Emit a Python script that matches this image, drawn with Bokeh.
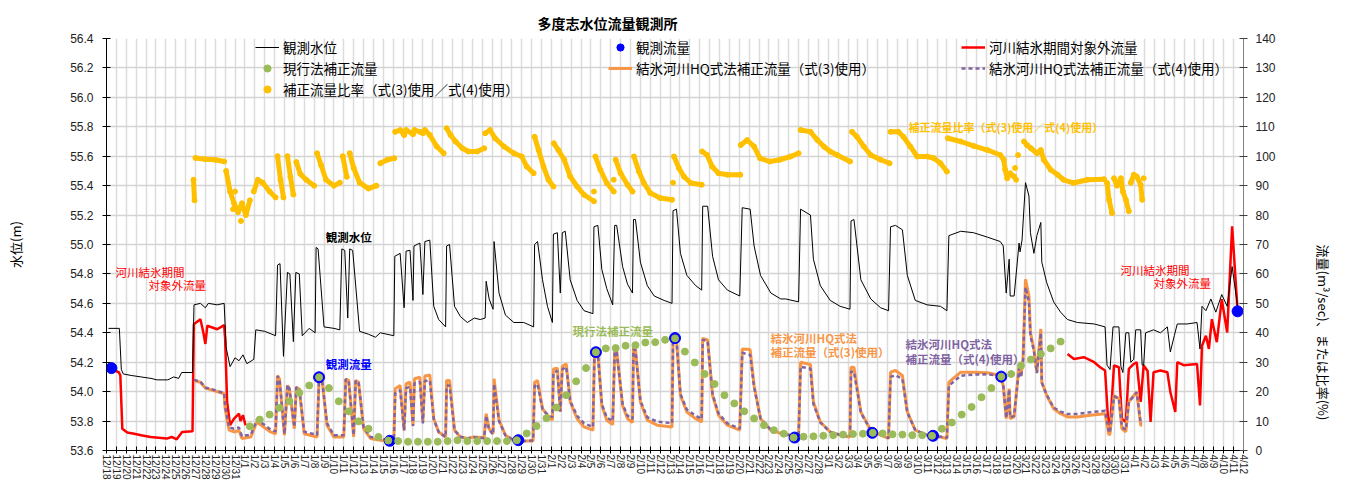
import math
from datetime import date, timedelta
from bokeh.plotting import figure
from bokeh.models import (Range1d, LinearAxis, FixedTicker, Legend, LegendItem, Label,
                          PrintfTickFormatter)
from bokeh.embed import file_html
from bokeh.resources import INLINE

NAN = float("nan")

# ---------------- data ----------------
START = date(2022, 12, 18)
N_DAYS = 115
date_labels = [f"{(START + timedelta(days=i)).month}/{(START + timedelta(days=i)).day}" for i in range(N_DAYS + 1)]
level_ticks = [53.6, 53.8, 54.0, 54.2, 54.4, 54.6, 54.8, 55.0, 55.2, 55.4, 55.6, 55.8, 56.0, 56.2, 56.4]
flow_ticks = [0, 10, 20, 30, 40, 50, 60, 70, 80, 90, 100, 110, 120, 130, 140]

# observed water level (m); x = days since 12/18
wl_day = [0.2, 1.3, 1.5, 1.7, 2.5, 3.5, 4.5, 5.1, 6.2, 6.8, 7.3, 7.6, 8.7, 8.85, 9.5, 10.0, 10.3, 11.2, 11.9,
          12.1, 12.5, 13.0, 13.4, 13.8, 14.2, 14.9, 15.1, 16.0, 17.1, 17.3, 17.55, 17.9, 18.3, 18.55, 18.9,
          19.15, 19.5, 19.8, 20.5, 21.1, 21.2, 21.4, 22.0, 23.0, 23.6, 23.8, 24.1, 24.4, 24.6, 24.9, 25.6,
          26.5, 27.2, 27.7, 29.06, 29.16, 29.7, 30.1, 30.3, 30.7, 31.0, 31.1, 31.7, 32.0, 32.2, 32.7, 33.1,
          33.6, 34.3, 34.4, 34.7, 35.2, 35.8, 36.5, 37.2, 37.8, 38.3, 38.4, 38.7, 39.1, 39.2, 39.7, 40.35,
          41.2, 42.2, 43.2, 43.3, 43.6, 44.1, 44.6, 45.1, 45.2, 45.6, 45.9, 46.1, 46.4, 46.9, 47.6, 48.3,
          49.2, 49.3, 49.7, 50.1, 50.6, 51.2, 51.4, 51.6, 52.2, 52.7, 53.2, 53.3, 53.5, 54.0, 54.7, 55.4,
          56.4, 57.2, 57.3, 57.65, 58.05, 58.7, 59.6, 60.2, 60.3, 60.8, 61.3, 61.9, 62.8, 64.05, 64.3, 65.1,
          65.5, 66.15, 67.2, 68.2, 68.7, 70.0, 70.2, 71.2, 71.5, 72.2, 73.2, 74.2, 75.2, 75.3, 75.6, 76.3,
          77.3, 78.3, 79.1, 79.3, 79.8, 80.5, 81.0, 81.8, 83.0, 84.35, 85.0, 85.2, 86.4, 87.7, 89.1, 90.4,
          90.7, 91.0, 91.3, 91.4, 91.8, 92.3, 92.4, 92.6, 92.95, 93.3, 93.45, 93.8, 94.1, 94.5, 94.6, 95.1,
          95.8, 96.5, 97.2, 98.2, 99.9, 101.0, 101.2, 101.5, 101.8, 102.4, 102.6, 102.8, 103.1, 103.4, 103.6,
          103.9, 104.1, 104.6, 104.75, 104.9, 105.1, 105.9, 106.6, 107.3, 107.6, 108.0, 108.3, 109.3, 110.3,
          110.6, 110.8, 111.2, 111.7, 112.2, 112.8, 113.35, 113.85, 114.4]
wl_val = [54.43, 54.43, 54.15, 54.12, 54.11, 54.10, 54.09, 54.08, 54.08, 54.10, 54.09, 54.13, 54.13, 54.59, 54.60,
          54.57, 54.60, 54.59, 54.60, 54.30, 54.17, 54.23, 54.21, 54.25, 54.19, 54.22, 54.42, 54.41, 54.38,
          54.86, 54.87, 54.24, 54.81, 54.80, 54.34, 54.81, 54.80, 54.38, 54.43, 54.40, 54.98, 54.97, 54.44,
          54.43, 54.42, 54.97, 54.96, 54.50, 54.97, 54.96, 54.41, 54.39, 54.37, 54.40, 54.38, 54.92, 54.94,
          54.57, 54.955, 54.96, 54.62, 54.99, 55.01, 54.66, 55.02, 55.03, 54.58, 54.49, 54.44, 54.99, 55.00,
          54.58, 54.51, 54.47, 54.50, 54.49, 54.50, 54.75, 54.63, 54.56, 55.02, 54.67, 54.52, 54.47, 54.47,
          54.44, 55.00, 55.02, 54.76, 54.58, 54.47, 55.07, 55.08, 54.67, 55.08, 55.09, 54.76, 54.62, 54.55,
          54.53, 55.12, 55.13, 54.83, 54.70, 54.59, 55.13, 55.13, 54.85, 54.73, 54.67, 55.17, 55.17, 54.88,
          54.72, 54.65, 54.62, 54.60, 55.23, 55.24, 54.94, 54.79, 54.72, 54.69, 55.26, 55.26, 54.92, 54.76,
          54.69, 54.65, 55.25, 55.24, 54.99, 54.79, 54.67, 54.63, 54.63, 54.61, 55.24, 55.20, 54.90, 54.72,
          54.62, 54.58, 54.56, 55.16, 55.17, 54.76, 54.63, 54.57, 54.55, 55.12, 55.13, 55.10, 54.79, 54.62,
          54.59, 54.58, 54.55, 55.06, 55.09, 55.08, 55.05, 55.02, 54.99, 54.67, 54.90, 54.65, 54.65, 55.01,
          54.95, 55.03, 55.42, 55.33, 55.08, 54.94, 55.06, 55.15, 54.88, 54.74, 54.61, 54.54, 54.49, 54.47,
          54.46, 54.44, 54.18, 54.15, 54.44, 54.44, 54.17, 54.13, 54.40, 54.40, 54.20, 54.22, 54.42, 54.42,
          54.18, 54.18, 54.40, 54.42, 54.40, 54.44, 54.27, 54.38, 54.46, 54.46, 54.47, 54.29, 54.58, 54.55,
          54.63, 54.54, 54.66, 54.58, 54.85, 54.58]

# flows outside the river-ice period (m3/s)
red1_day = [0.2, 1.25, 1.4, 1.6, 2.1, 2.8, 3.5, 4.45, 6.1, 6.6, 7.1, 7.65, 8.7, 8.83, 9.5, 9.8, 10.0, 10.2, 11.2,
            11.9, 12.0, 12.2, 12.5, 12.9, 13.4, 13.55, 13.8, 14.06]
red1_val = [28.0, 26.6, 25.5, 7.4, 6.1, 5.7, 5.2, 4.6, 4.05, 4.6, 3.8, 6.3, 6.5, 42.9, 44.6, 40.0, 36.2, 42.4, 41.2,
            42.6, 38.0, 16.5, 8.6, 10.8, 12.5, 10.0, 12.0, 8.6]
red2_day = [97.2, 97.85, 98.85, 99.9, 100.5, 101.0, 101.3, 101.5, 101.9, 102.4, 102.7, 103.1, 103.4, 103.9, 104.2,
            104.6, 104.9, 105.3, 105.6, 105.9, 106.6, 107.3, 107.6, 108.1, 108.3, 108.95, 110.3, 110.6, 110.8,
            111.2, 111.5, 111.8, 112.3, 112.8, 113.35, 113.85, 114.4]
red2_val = [32.8, 31.1, 31.7, 30.0, 28.3, 27.2, 10.8, 7.4, 28.9, 28.3, 10.8, 9.7, 27.7, 29.4, 30.0, 16.5, 28.9,
            27.0, 9.7, 26.6, 27.2, 26.6, 19.9, 13.1, 30.0, 29.0, 29.4, 15.3, 35.6, 39.0, 34.5, 44.6, 36.8, 51.4,
            40.1, 76.2, 47.5]

# ice-river HQ method corrected flows, eq.(3) and eq.(4)
hq_day = [8.85, 9.5, 10.0, 10.85, 11.9, 12.0, 12.4, 12.9, 13.4, 13.7, 14.6, 15.07, 15.2, 15.9, 16.6, 17.1, 17.3,
          17.5, 18.0, 18.3, 18.5, 19.0, 19.2, 19.5, 20.0, 21.3, 21.5, 21.8, 22.3, 23.0, 24.0, 24.2, 24.5, 25.0,
          25.2, 25.5, 26.0, 26.7, 27.7, 29.06, 29.2, 29.7, 30.1, 30.3, 30.7, 31.0, 31.15, 31.7, 32.0, 32.2, 32.7,
          33.1, 33.6, 34.3, 34.4, 34.7, 35.2, 35.8, 36.5, 37.15, 38.2, 38.4, 38.7, 39.1, 39.2, 39.7, 40.35, 41.2,
          42.2, 43.15, 43.3, 43.6, 44.1, 44.6, 45.1, 45.2, 45.6, 45.9, 46.1, 46.5, 46.9, 47.6, 48.3, 49.2, 49.35,
          49.7, 50.1, 50.6, 51.2, 51.4, 51.6, 52.2, 52.7, 53.2, 53.3, 53.5, 54.0, 54.7, 55.7, 57.2, 57.3, 57.65,
          58.05, 58.7, 59.6, 60.2, 60.3, 60.8, 61.3, 61.9, 62.8, 64.05, 64.3, 65.1, 65.5, 66.15, 67.2, 68.2, 70.0,
          70.2, 71.2, 71.5, 72.2, 73.2, 74.2, 75.2, 75.3, 75.6, 76.3, 77.3, 78.3, 79.1, 79.3, 79.8, 80.5, 81.0,
          81.8, 83.0, 84.35, 85.0, 85.2, 86.4, 87.7, 89.1, 90.4, 90.7, 91.0, 91.3, 91.4, 91.8, 92.3, 92.5, 92.7,
          92.95, 93.3, 93.45, 93.8, 94.1, 94.5, 94.6, 95.1, 95.8, 96.5, 97.2, 98.2, 99.5, 101.0, 101.4, 101.5,
          101.9, 102.4, 102.7, 103.1, 103.4, 103.9, 104.2, 104.6, 104.75]
hq3_val = [23.8, 23.2, 21.2, 20.4, 19.3, 14.2, 6.9, 6.3, 6.8, 4.1, 4.6, 8.6, 9.7, 8.0, 6.3, 5.7, 25.5, 24.3, 5.2,
           22.1, 21.0, 7.4, 21.5, 20.8, 5.7, 4.6, 24.9, 24.3, 8.6, 4.6, 4.6, 24.3, 23.8, 4.6, 23.8, 23.2, 7.4,
           4.1, 3.5, 3.0, 21.0, 22.1, 6.9, 22.7, 23.2, 8.6, 24.4, 24.9, 9.7, 25.3, 25.7, 10.8, 6.3, 4.6, 23.8,
           23.8, 6.9, 4.6, 4.1, 4.6, 4.3, 12.5, 7.4, 5.7, 24.4, 10.3, 5.2, 3.5, 3.2, 3.2, 23.2, 23.8, 14.2, 12.0,
           10.3, 27.7, 28.0, 13.1, 28.6, 29.4, 16.5, 10.8, 8.0, 6.9, 33.0, 33.2, 15.3, 10.3, 8.8, 33.9, 33.9,
           15.3, 10.8, 9.5, 35.1, 34.5, 16.5, 10.3, 8.6, 8.0, 37.9, 37.9, 18.7, 13.1, 10.8, 9.7, 38.1, 37.6,
           18.7, 12.0, 8.6, 6.9, 34.5, 34.3, 22.1, 10.8, 6.9, 5.8, 4.6, 30.0, 29.2, 16.5, 9.7, 6.3, 5.2, 4.6,
           28.3, 28.3, 13.1, 6.9, 5.2, 4.1, 26.6, 27.2, 25.5, 13.1, 6.9, 5.2, 4.6, 4.1, 23.2, 26.6, 26.6, 26.4,
           25.5, 22.1, 10.8, 21.0, 10.8, 11.4, 28.9, 25.5, 31.1, 58.2, 52.5, 40.1, 34.5, 26.6, 41.3, 23.2, 18.7,
           14.2, 12.5, 11.4, 11.4, 12.0, 12.5, 5.2, 5.8, 18.7, 17.6, 7.4, 6.3, 16.5, 18.7, 19.9, 8.6, 8.6]
hq4_val = [24.0, 23.4, 21.4, 20.6, 19.5, 15.0, 7.8, 7.4, 7.8, 4.9, 5.4, 9.3, 10.5, 8.9, 7.1, 6.5, 25.3, 24.0, 5.6,
           22.3, 21.0, 8.0, 21.6, 20.8, 6.4, 5.3, 24.8, 24.0, 9.3, 5.2, 5.2, 24.3, 23.5, 5.2, 23.8, 23.0, 8.0,
           4.6, 4.0, 3.2, 19.5, 20.5, 6.8, 21.2, 21.6, 8.3, 22.8, 23.3, 9.2, 23.6, 23.8, 10.6, 6.2, 4.6, 22.0,
           22.1, 6.8, 4.7, 4.1, 4.5, 4.2, 11.8, 7.0, 5.5, 22.6, 10.0, 5.1, 3.5, 3.2, 3.4, 21.8, 22.6, 14.0, 12.2,
           11.3, 26.5, 27.0, 13.3, 27.6, 28.4, 16.8, 11.8, 9.2, 8.0, 32.4, 32.6, 15.8, 11.2, 10.0, 33.6, 33.4,
           15.8, 11.8, 10.7, 34.5, 34.0, 16.9, 11.3, 9.8, 9.3, 37.5, 37.3, 19.2, 13.9, 11.8, 10.7, 37.6, 37.2,
           19.1, 12.6, 9.2, 7.4, 33.2, 32.5, 21.5, 10.9, 7.0, 5.9, 4.6, 28.5, 27.8, 15.8, 9.5, 6.3, 5.3, 4.7,
           26.8, 26.8, 12.8, 6.9, 5.3, 4.2, 25.0, 25.6, 24.3, 12.9, 6.9, 5.2, 4.7, 4.3, 22.0, 25.4, 25.8, 25.9,
           25.4, 22.2, 11.0, 20.8, 11.2, 11.8, 28.0, 24.8, 30.2, 55.5, 50.5, 39.0, 33.8, 26.3, 40.0, 23.0, 18.9,
           14.6, 13.2, 12.4, 12.4, 13.0, 13.5, 6.0, 6.5, 18.4, 17.7, 8.0, 7.0, 16.5, 18.5, 19.8, 9.3, 9.3]

# current-method corrected flow (daily)
green_day = [k + 0.5 for k in range(14, 97)]
green_val = [8.2, 10.5, 12.2, 14.5, 16.7, 19.6, 22.1, 24.9, 21.2, 16.7,
             13.3, 9.9, 7.4, 4.6, 3.4, 3.2, 3.0, 3.0, 3.0, 3.0,
             3.2, 3.5, 3.2, 3.2, 3.2, 3.2, 3.2, 3.5, 5.8, 8.3,
             11.0, 14.6, 18.8, 23.5, 28.0, 33.4, 34.7, 34.8, 35.6, 35.8,
             36.7, 36.8, 37.6, 38.1, 33.6, 29.9, 26.0, 22.6, 18.8, 16.0,
             13.3, 10.9, 8.6, 6.9, 5.7, 4.4, 4.7, 4.8, 5.0, 5.2,
             5.4, 5.6, 5.7, 6.0, 5.8, 5.5, 5.4, 5.2, 5.2, 5.0,
             7.4, 9.5, 12.2, 14.8, 18.1, 21.2, 25.1, 26.0, 28.9, 30.9,
             32.8, 34.7, 37.0]

# observed flow
obs_day = [0.5, 21.5, 28.65, 41.65, 49.5, 57.5, 69.6, 77.45, 83.6, 90.5, 114.4]
obs_val = [28.0, 24.9, 3.3, 3.5, 33.4, 38.2, 4.4, 6.0, 5.0, 25.1, 47.3]

# ratio eq.(3)/eq.(4) (%), NaN separates runs
ratio_day = [8.8, 8.9, NAN,
             9.0, 10.0, 11.0, 11.9, NAN,
             12.1, 12.5, 12.9, 13.3, 13.7, 14.1, 14.5, NAN,
             14.9, 15.3, 15.8, 16.5, 17.1, NAN,
             17.3, 17.6, 17.9, NAN,
             18.3, 18.6, 18.9, NAN,
             19.2, 19.6, 20.2, 21.0, NAN,
             21.3, 21.7, 22.2, 23.0, 23.6, NAN,
             23.9, 24.3, NAN,
             24.6, 25.0, 25.6, 26.5, 27.3, NAN,
             27.7, 28.4, 29.1, NAN,
             29.2, 29.7, 30.1, 30.3, 31.0, 31.15, 31.7, 32.0, 32.2, 32.7, 33.4, 34.1, NAN,
             34.4, 34.8, 35.3, 36.0, 36.6, 37.5, 38.2, NAN,
             38.3, 38.8, 39.3, 40.2, 41.2, 42.0, 42.5, 43.2, NAN,
             43.3, 43.7, 44.2, 44.7, 45.2, NAN,
             45.25, 45.7, 46.3, 46.9, 47.6, 48.3, 49.3, NAN,
             49.45, 49.95, 50.6, 51.3, NAN,
             51.5, 52.0, 52.7, 53.2, NAN,
             53.35, 53.85, 54.35, 55.0, 56.0, 57.2, NAN,
             57.4, 57.9, 58.4, 59.1, 60.2, NAN,
             60.25, 60.75, 61.25, 61.9, 62.8, 64.1, NAN,
             64.15, 64.8, 65.5, 66.1, 67.1, 68.1, 69.2, 70.0, NAN,
             70.2, 71.2, 71.9, 72.55, 73.2, 73.9, 75.2, NAN,
             75.4, 75.9, 76.6, 77.3, 78.3, 79.2, NAN,
             79.3, 80.1, 80.6, 81.3, 82.0, 83.0, 83.7, 84.35, 85.0, NAN,
             85.1, 86.4, 87.7, 89.1, 90.4, 90.75, 90.9, 91.1, 91.4, 91.8, NAN,
             92.8, 93.1, 93.5, 94.1, 94.5, 94.8, 95.5, 96.2, 96.8, 97.8, 99.2, 100.9, NAN,
             101.2, 101.4, 101.7, NAN,
             101.9, 102.2, 102.6, 102.8, 103.1, 103.4, NAN,
             103.6, 103.9, 104.2, 104.6, 104.75]
ratio_val = [92.0, 85.0, NAN,
             99.4, 99.0, 98.8, 98.2, NAN,
             95.0, 88.0, 84.0, 81.0, 84.0, 80.0, 85.0, NAN,
             88.0, 92.0, 91.0, 88.0, 86.0, NAN,
             100.0, 92.0, 86.0, NAN,
             100.0, 93.0, 87.0, NAN,
             98.0, 94.0, 92.0, 90.0, NAN,
             101.0, 97.0, 92.0, 90.0, 91.0, NAN,
             100.0, 93.0, NAN,
             101.0, 96.0, 91.0, 89.0, 90.0, NAN,
             97.6, 98.8, 99.3, NAN,
             108.3, 108.9, 107.2, 108.9, 107.5, 108.9, 108.3, 107.8, 108.9, 107.2, 103.3, 101.0, NAN,
             109.5, 107.2, 105.0, 102.7, 101.6, 101.6, 102.7, NAN,
             107.8, 108.9, 106.1, 103.3, 101.0, 99.9, 96.5, 94.2, NAN,
             106.6, 102.1, 96.5, 92.0, 89.7, NAN,
             104.4, 102.1, 98.8, 93.1, 89.7, 86.9, 84.7, NAN,
             99.9, 95.4, 90.9, 88.0, NAN,
             98.8, 94.2, 90.3, 88.0, NAN,
             99.9, 94.8, 90.9, 87.5, 85.8, 85.2, NAN,
             99.9, 95.9, 93.1, 90.9, 90.3, NAN,
             101.6, 100.4, 96.5, 94.2, 93.7, 93.7, NAN,
             103.8, 105.5, 103.3, 99.3, 98.2, 98.8, 99.9, 101.0, NAN,
             108.9, 108.3, 105.5, 103.3, 101.6, 100.4, 98.2, NAN,
             108.3, 106.6, 103.3, 100.4, 98.8, 97.6, NAN,
             108.3, 108.3, 106.6, 103.3, 99.9, 99.9, 99.3, 97.6, 94.8, NAN,
             106.1, 105.0, 103.5, 102.1, 100.4, 98.8, 95.4, 92.5, 94.2, 93.1, NAN,
             105.0, 103.8, 102.7, 101.0, 102.1, 98.8, 95.4, 93.7, 92.0, 90.9, 92.0, 92.2, NAN,
             90.9, 85.2, 80.7, NAN,
             92.5, 90.0, 92.5, 88.0, 85.2, 81.3, NAN,
             91.0, 93.7, 93.1, 90.3, 85.2]
ratio_stray_day = [104.9, 91.9, 92.2, 92.0, 49.3, 51.3, 57.3, 13.0, 13.6, 12.8]
ratio_stray_val = [92.5, 96.0, 100.4, 92.0, 88.0, 92.0, 91.0, 88.0, 78.0, 82.0]

# ---------------- figure ----------------
JP = "Noto Sans CJK JP"
NUM = "Liberation Sans"

p = figure(width=1347, height=482, x_range=Range1d(0, N_DAYS), y_range=Range1d(53.6, 56.4),
           output_backend="svg", toolbar_location=None,
           min_border_left=106, min_border_right=104, min_border_top=38, min_border_bottom=30)
p.extra_y_ranges = {"flow": Range1d(0, 140)}
p.outline_line_color = None
p.background_fill_color = "white"

p.title.text = "多度志水位流量観測所"
p.title.align = "left"
p.title.offset = 431
p.title.standoff = 12
p.title.text_font = JP
p.title.text_font_size = "14px"
p.title.text_font_style = "bold"
p.title.text_color = "black"

p.xgrid.ticker = FixedTicker(ticks=list(range(N_DAYS + 1)))
p.xgrid.grid_line_color = "#dcdcdc"
p.xgrid.grid_line_width = 1.5
p.ygrid.ticker = FixedTicker(ticks=level_ticks)
p.ygrid.grid_line_color = "#d4d4d4"
p.ygrid.grid_line_width = 1.5

xa = p.xaxis[0]
xa.ticker = FixedTicker(ticks=list(range(N_DAYS + 1)))
xa.major_label_overrides = {i: lab for i, lab in enumerate(date_labels)}
xa.major_label_orientation = "vertical"
xa.major_label_text_font = NUM
xa.major_label_text_font_size = "10px"
xa.major_label_text_color = "#222222"
xa.major_label_standoff = 1
xa.major_tick_in = 4
xa.major_tick_out = 3
xa.minor_tick_line_color = None
xa.axis_line_color = "black"
xa.major_tick_line_color = "black"

ya = p.yaxis[0]
ya.ticker = FixedTicker(ticks=level_ticks)
ya.formatter = PrintfTickFormatter(format="%.1f")
ya.major_tick_in = 4
ya.major_tick_out = 4
ya.minor_tick_line_color = None
ya.major_label_standoff = 9
ya.major_label_text_font = NUM
ya.major_label_text_font_size = "12px"
ya.major_label_text_color = "#222222"
ya.axis_line_color = "black"
ya.major_tick_line_color = "black"
ya.axis_label = "水位(m)"
ya.axis_label_text_font = JP
ya.axis_label_text_font_size = "13px"
ya.axis_label_text_font_style = "normal"
ya.axis_label_text_color = "black"
ya.axis_label_standoff = 42

ra = LinearAxis(y_range_name="flow", ticker=FixedTicker(ticks=flow_ticks))
ra.major_tick_in = 4
ra.major_tick_out = 4
ra.minor_tick_line_color = None
ra.major_label_standoff = 8
ra.major_label_text_font = NUM
ra.major_label_text_font_size = "12px"
ra.major_label_text_color = "#222222"
ra.axis_line_color = "#808080"
ra.major_tick_line_color = "#404040"
ra.axis_label = "流量(m³/sec)、または比率(%)"
ra.axis_label_text_font = JP
ra.axis_label_text_font_size = "13px"
ra.axis_label_text_font_style = "normal"
ra.axis_label_text_color = "black"
ra.axis_label_standoff = 45
if "axis_label_orientation" in ra.properties():
    ra.axis_label_orientation = -math.pi / 2
p.add_layout(ra, "right")

# ---------------- series ----------------
r_red1 = p.line(red1_day, red1_val, y_range_name="flow", line_color="#FF0000", line_width=2.5)
p.line(red2_day, red2_val, y_range_name="flow", line_color="#FF0000", line_width=2.5)
r_hq3 = p.line(hq_day, hq3_val, y_range_name="flow", line_color="#F79646", line_width=3)
r_hq4 = p.line(hq_day, hq4_val, y_range_name="flow", line_color="#8064A2", line_width=2.5, line_dash="4 3")
p.line(ratio_day, ratio_val, y_range_name="flow", line_color="#FFC000", line_width=5,
       line_join="round", line_cap="round")
r_ratio = p.scatter(ratio_day, ratio_val, y_range_name="flow", size=5, color="#FFC000")
p.scatter(ratio_stray_day, ratio_stray_val, y_range_name="flow", size=5, color="#FFC000")
r_wl = p.line(wl_day, wl_val, line_color="black", line_width=1)
r_obs = p.scatter(obs_day, obs_val, y_range_name="flow", size=11, color="#0000FF")
r_green = p.scatter(green_day, green_val, y_range_name="flow", size=7, color="#9BBB59")

# ---------------- legends ----------------
def make_legend(items, loc):
    lg = Legend(items=items, location=loc)
    lg.background_fill_alpha = 0
    lg.border_line_alpha = 0
    lg.padding = 0
    lg.margin = 0
    lg.spacing = 1
    lg.glyph_height = 18
    lg.glyph_width = 24
    lg.label_height = 18
    lg.label_standoff = 4
    lg.label_text_font = JP
    lg.label_text_font_size = "13.5px"
    lg.label_text_color = "black"
    lg.label_text_baseline = "middle"
    return lg

p.add_layout(make_legend([
    LegendItem(label="観測水位", renderers=[r_wl]),
    LegendItem(label="現行法補正流量", renderers=[r_green]),
    LegendItem(label="補正流量比率（式(3)使用／式(4)使用）", renderers=[r_ratio]),
], (149, 351)))
p.add_layout(make_legend([
    LegendItem(label="観測流量", renderers=[r_obs]),
    LegendItem(label="結氷河川HQ式法補正流量（式(3)使用）", renderers=[r_hq3]),
], (502, 372)))
p.add_layout(make_legend([
    LegendItem(label="河川結氷期間対象外流量", renderers=[r_red1]),
    LegendItem(label="結氷河川HQ式法補正流量（式(4)使用）", renderers=[r_hq4]),
], (855, 372)))

# ---------------- in-plot texts ----------------
def add_label(text, x, y, color="black", size="12px", bold=False, align="left"):
    p.add_layout(Label(x=x, y=y, text=text, text_color=color, text_font=JP, text_font_size=size,
                       text_font_style="bold" if bold else "normal", text_align=align,
                       text_baseline="middle"))

add_label("観測水位", 24.5, 55.054, bold=True, align="center", size="11.5px")
add_label("観測流量", 24.5, 54.188, color="#0000FF", bold=True, align="center", size="11.5px")
add_label("河川結氷期間", 0.91, 54.81, color="#FF0000", size="11.5px")
add_label("対象外流量", 4.25, 54.723, color="#FF0000", size="11.5px")
add_label("河川結氷期間", 102.56, 54.824, color="#FF0000", size="11.5px")
add_label("対象外流量", 105.9, 54.736, color="#FF0000", size="11.5px")
add_label("現行法補正流量", 47.13, 54.412, color="#9BBB59", bold=True, size="11.5px")
add_label("結氷河川HQ式法", 67.16, 54.364, color="#F79646", bold=True, size="11.5px")
add_label("補正流量（式(3)使用）", 67.16, 54.27, color="#F79646", bold=True, size="11.5px")
add_label("結氷河川HQ式法", 80.81, 54.324, color="#8064A2", bold=True, size="11.5px")
add_label("補正流量（式(4)使用）", 80.81, 54.222, color="#8064A2", bold=True, size="11.5px")
add_label("補正流量比率（式(3)使用／式(4)使用）", 81.12, 55.798, color="#FFC000", bold=True, size="11px")

open("out.html", "w").write(file_html(p, INLINE))
